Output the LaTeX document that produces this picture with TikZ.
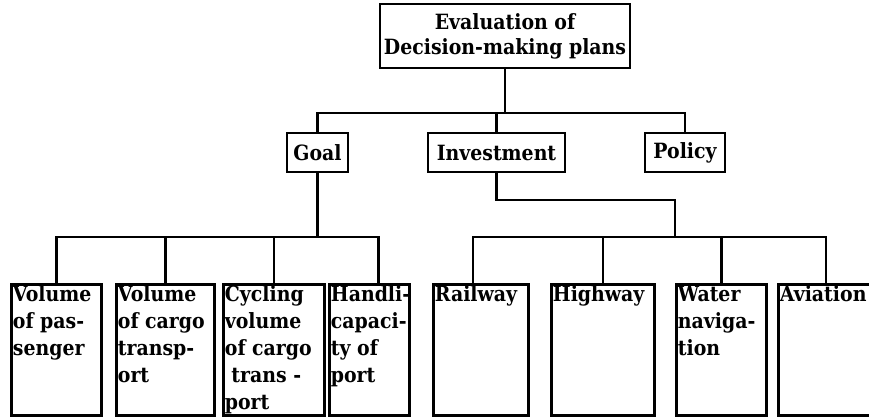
\documentclass[tikz,border=0pt]{standalone}
\usepackage{fontspec}
\setmainfont{DejaVu Serif}[FakeStretch=0.9]
\newcommand{\cell}[2]{\parbox[t][128pt][t]{#1}{\raggedright\hyphenpenalty=10000 \exhyphenpenalty=10000 #2}}
\tikzset{
  box/.style={draw, line width=2.8pt, inner sep=2pt, font=\bfseries\fontsize{21}{25}\selectfont},
  head/.style={box, align=center, minimum width=250pt, minimum height=64pt},
  mid/.style={box, minimum height=39pt},
  leaf/.style={box, anchor=north west, inner sep=1.5pt, font=\bfseries\fontsize{21}{27}\selectfont},
  wire/.style={line width=2.8pt}
}
\begin{document}
\begin{tikzpicture}[x=1pt,y=-1pt]
\useasboundingbox (0,0) rectangle (869,418);
% top
\node[head] (eval) at (505,36) {Evaluation of\\Decision-making plans};
\node[mid, minimum width=61pt] (goal) at (317.5,152.5) {Goal};
\node[mid, minimum width=137pt] (inv) at (496.5,152.5) {Investment};
\node[mid, minimum width=80pt] (policy) at (685,152.5) {Policy};
% goal leaves
\node[leaf] (pass) at (10,283) {\cell{87pt}{Volume\\of pas-\\senger}};
\node[leaf] (cargo) at (115,283) {\cell{95pt}{Volume\\of cargo\\transp-\\ort}};
\node[leaf] (cycle) at (222,283) {\cell{98pt}{Cycling\\volume\\of cargo\\\ trans -\\port}};
\node[leaf] (port) at (328,283) {\cell{77pt}{Handli-\\capaci-\\ty of\\port}};
% investment leaves
\node[leaf] (rail) at (432,283) {\cell{92pt}{Railway}};
\node[leaf] (high) at (550,283) {\cell{100pt}{Highway}};
\node[leaf] (water) at (675,283) {\cell{87pt}{Water\\naviga-\\tion}};
\node[leaf] (avia) at (777,283) {\cell{92pt}{Aviation}};
% connectors
\coordinate (tbus) at (505,113);
\draw[wire] (eval.south) -- (tbus);
\draw[wire] (goal.north) |- (tbus) -| (policy.north);
\draw[wire] (inv.north) -- (inv.north |- tbus);
\coordinate (gbus) at (317.5,237);
\draw[wire] (goal.south) -- (gbus);
\draw[wire] (pass.north) |- (gbus) -| ([xshift=9pt]port.north);
\draw[wire] (cargo.north) -- (cargo.north |- gbus);
\draw[wire] (cycle.north) -- (cycle.north |- gbus);
\coordinate (ibend) at (675,200);
\coordinate (ibus) at (675,237);
\draw[wire] (inv.south) |- (ibend) -- (ibus);
\draw[wire] ([xshift=-8pt]rail.north) |- (ibus) -| (avia.north);
\draw[wire] (high.north) -- (high.north |- ibus);
\draw[wire] (water.north) -- (water.north |- ibus);
\end{tikzpicture}
\end{document}
